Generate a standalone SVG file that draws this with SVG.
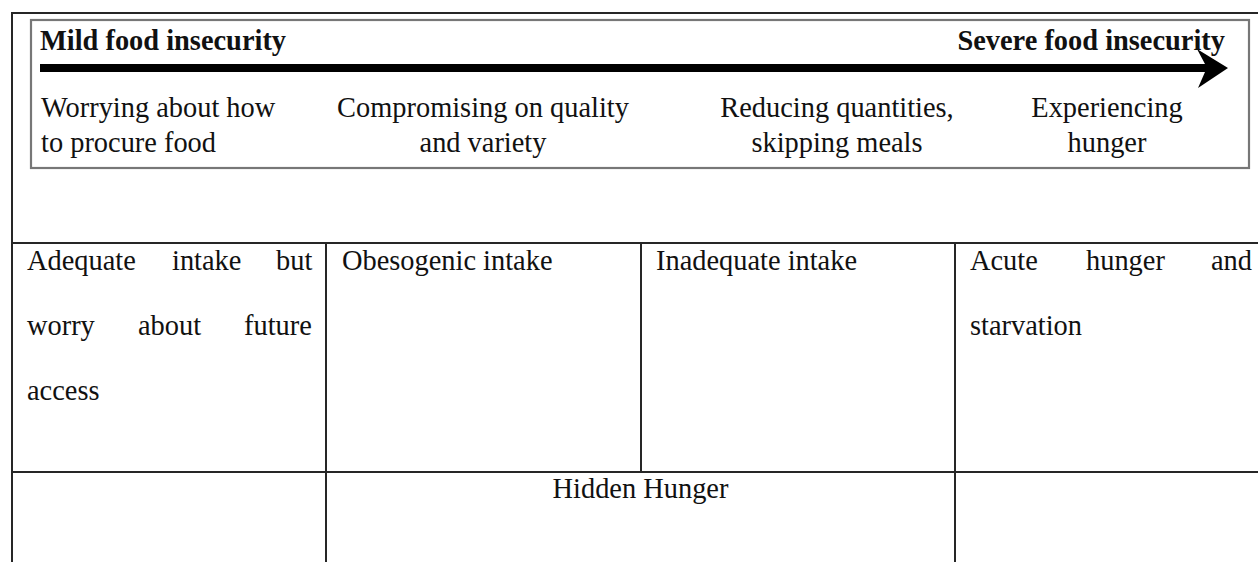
<svg xmlns="http://www.w3.org/2000/svg" width="1258" height="562" viewBox="0 0 1258 562">
<style>
  text { font-family: "Liberation Serif", "Times New Roman", serif; font-size: 28.4px; fill: #111; }
  .b { font-weight: bold; }
  .c { text-anchor: middle; }
  .e { text-anchor: end; }
  .grid { stroke: #262626; stroke-width: 2; fill: none; }
  .box { stroke: #777; stroke-width: 2.2; fill: none; }
</style>
<rect width="1258" height="562" fill="#fff"/>

<g id="connectors">
  <line class="grid" x1="12" y1="13" x2="1258" y2="13"/>
  <line class="grid" x1="12" y1="12" x2="12" y2="562"/>
  <line class="grid" x1="12" y1="243" x2="1258" y2="243"/>
  <line class="grid" x1="12" y1="472" x2="1258" y2="472"/>
  <line class="grid" x1="326" y1="243" x2="326" y2="562"/>
  <line class="grid" x1="641" y1="243" x2="641" y2="472"/>
  <line class="grid" x1="955" y1="243" x2="955" y2="562"/>
</g>

<g id="scale">
  <rect class="box" x="31" y="20" width="1218" height="148"/>
  <rect x="40" y="64" width="1166" height="8" fill="#000"/>
  <polygon points="1228,68 1197,49 1205,64 1205,72 1198,88" fill="#000"/>
  <text class="b" x="40" y="50">Mild food insecurity</text>
  <text class="b e" x="1225" y="50">Severe food insecurity</text>
</g>

<g id="stage1">
  <text x="41" y="117">Worrying about how</text>
  <text x="41" y="152">to procure food</text>
</g>
<g id="stage2">
  <text class="c" x="483" y="117">Compromising on quality</text>
  <text class="c" x="483" y="152">and variety</text>
</g>
<g id="stage3">
  <text class="c" x="837" y="117">Reducing quantities,</text>
  <text class="c" x="837" y="152">skipping meals</text>
</g>
<g id="stage4">
  <text class="c" x="1107" y="117">Experiencing</text>
  <text class="c" x="1107" y="152">hunger</text>
</g>

<g id="cell-adequate">
  <text y="270"><tspan x="27">Adequate</tspan><tspan x="172">intake</tspan><tspan x="276">but</tspan></text>
  <text y="335"><tspan x="27">worry</tspan><tspan x="138">about</tspan><tspan x="244">future</tspan></text>
  <text x="27" y="400">access</text>
</g>
<g id="cell-obesogenic">
  <text x="342" y="270">Obesogenic intake</text>
</g>
<g id="cell-inadequate">
  <text x="656" y="270">Inadequate intake</text>
</g>
<g id="cell-acute">
  <text y="270"><tspan x="970">Acute</tspan><tspan x="1086">hunger</tspan><tspan x="1211">and</tspan></text>
  <text x="970" y="335">starvation</text>
</g>
<g id="cell-hidden">
  <text class="c" x="640.5" y="498">Hidden Hunger</text>
</g>
</svg>
